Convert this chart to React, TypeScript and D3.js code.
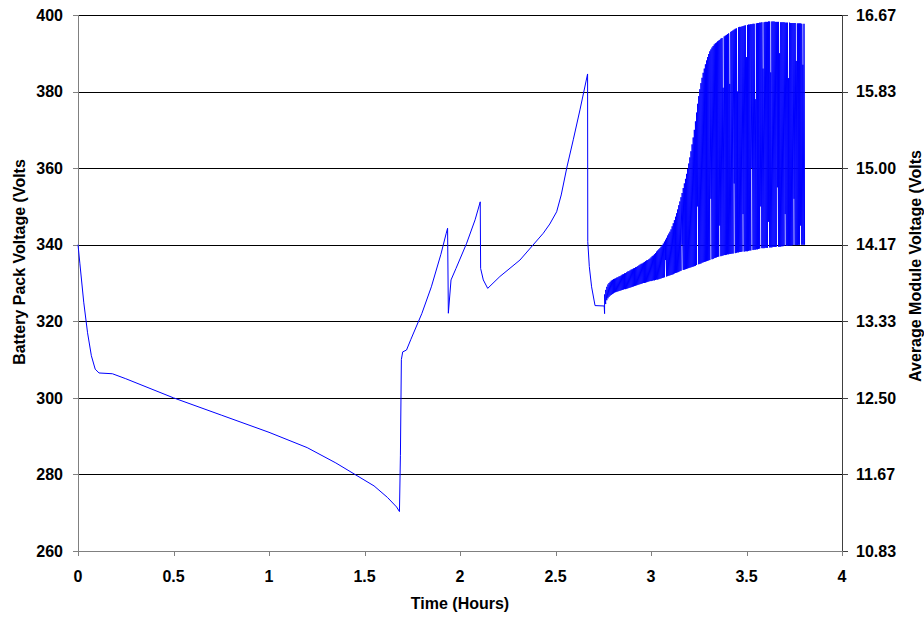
import React from 'react';
import * as d3 from 'd3';

// main trace before the charger starts cycling (hours, pack volts)
const mainTime = [
  0, 0.01, 0.03, 0.05, 0.07, 0.09, 0.11, 0.18, 0.25, 0.5, 0.75, 1.0, 1.2, 1.35, 1.45, 1.55, 1.62, 1.668, 1.683,
  1.688, 1.693, 1.7, 1.72, 1.743, 1.8, 1.85, 1.9, 1.928, 1.935, 1.939, 1.953, 1.979, 2.035, 2.079, 2.106,
  2.108, 2.122, 2.145, 2.209, 2.314, 2.436, 2.47, 2.506, 2.53, 2.56, 2.593, 2.628, 2.668, 2.669, 2.677, 2.689,
  2.707, 2.755,
];
const mainVolt = [
  340, 335, 325, 317, 311, 307.5, 306.5, 306.3, 305, 300, 295.5, 291, 287, 283, 280, 277, 274, 271.5, 270.3,
  285, 310, 312, 312.5, 315.3, 322, 329, 337.5, 343, 344.3, 322.1, 330.8, 333.8, 340.4, 346.5, 351.2,
  333.8, 330.8, 328.6, 331.7, 336, 343, 345.4, 348.6, 353, 360.3, 367.4, 375.2, 384.6, 340.8, 334.3, 329,
  324.1, 324,
];

// charge cycling, one cycle every oscStep hours: drop to oscLow, jump to oscHigh
const oscStart = 2.757;
const oscStep = 0.0058;
const oscHigh = [
  327, 328.2, 329, 329.6, 330, 330.3, 330.6, 330.8, 331, 331.1,
  331.2, 331.4, 331.5, 331.7, 331.8, 332, 332.2, 332.3, 332.5, 332.6,
  332.8, 333, 333.1, 333.3, 333.5, 333.6, 333.8, 333.9, 334.1, 334.2,
  334.4, 334.6, 334.8, 335, 335.1, 335.3, 335.5, 335.7, 335.9, 336,
  336.2, 336.4, 336.7, 337, 337.2, 337.5, 337.8, 338.2, 338.5, 338.8,
  339.1, 339.5, 339.9, 340.3, 340.8, 341.3, 341.8, 342.4, 342.9, 343.4,
  344, 344.8, 345.6, 346.4, 347.3, 348.2, 349.2, 350.3, 351.3, 352.4,
  353.5, 354.8, 356, 357.2, 358.5, 359.8, 361.2, 362.8, 364.4, 366.2,
  368, 370, 372.2, 374.5, 376.8, 378.8, 380.6, 382.2, 383.6, 384.9,
  386, 387.1, 388.1, 389, 389.8, 390.5, 391, 391.5, 391.9, 392.3,
  392.6, 392.8, 393.1, 393.3, 393.5, 393.8, 394, 381, 394.4, 394.6,
  394.8, 395, 395.2, 382, 395.6, 395.8, 396, 396.2, 396.4, 396.5,
  380, 396.8, 396.9, 396.9, 397, 397.1, 397.2, 397.3, 389, 397.4,
  397.5, 397.5, 397.6, 397.6, 397.7, 397.7, 378, 397.8, 397.9, 397.9,
  398, 398, 398.1, 386, 398.1, 398.2, 398.2, 398.2, 398.3, 398.3,
  385, 398.3, 398.3, 398.3, 398.2, 398.2, 398.2, 398.2, 390, 398.1,
  398.1, 398.1, 398.1, 398, 398, 398, 383.5, 398, 397.9, 397.9,
  397.9, 397.9, 397.9, 388, 397.8, 397.8, 397.8, 397.8, 397.7, 387,
  397.7,
];
const oscLow = [
  322, 324.5, 325.5, 326, 326.4, 326.7, 326.9, 327.1, 327.3, 327.5,
  327.6, 327.7, 327.8, 327.9, 328, 328.1, 328.2, 328.3, 328.4, 328.4,
  328.5, 328.6, 328.7, 328.8, 328.9, 329, 329.1, 329.2, 329.3, 329.4,
  329.5, 329.6, 329.7, 329.8, 329.9, 330, 330, 330.1, 330.2, 330.3,
  330.4, 330.5, 330.5, 330.6, 330.7, 330.7, 330.8, 330.9, 330.9, 331,
  331.1, 331.2, 331.3, 331.4, 331.5, 336, 331.7, 331.8, 331.9, 332,
  332.1, 332.2, 332.3, 332.5, 332.6, 332.7, 332.8, 332.9, 333.1, 333.2,
  340, 333.4, 333.5, 333.6, 333.7, 333.8, 333.9, 334, 334.1, 334.2,
  334.3, 334.4, 334.5, 334.7, 350, 334.9, 335, 335.1, 335.3, 335.4,
  335.5, 335.6, 335.7, 335.8, 335.9, 336, 352, 336.2, 336.3, 336.5,
  336.6, 336.7, 336.8, 336.9, 345, 337, 337.1, 337.2, 337.3, 337.3,
  337.4, 337.5, 337.5, 337.6, 337.6, 337.7, 337.7, 356, 337.8, 337.9,
  338, 338, 338.1, 338.1, 338.2, 348, 338.2, 338.3, 338.3, 338.3,
  338.4, 338.5, 338.5, 360, 338.6, 338.7, 338.7, 338.8, 338.8, 338.9,
  339, 350, 339.1, 339.1, 339.1, 339.2, 339.2, 339.2, 346, 339.3,
  339.3, 339.3, 339.4, 339.4, 339.4, 339.5, 355, 339.5, 339.5, 339.5,
  339.6, 339.6, 339.7, 348, 339.7, 339.7, 339.8, 339.8, 339.8, 339.8,
  339.9, 352, 339.9, 339.9, 339.9, 340, 340, 345, 340, 340,
  340,
];
const endTime = 3.804;
const endVolt = 340;

const xTicks = [0, 0.5, 1, 1.5, 2, 2.5, 3, 3.5, 4];
const yTicks = [260, 280, 300, 320, 340, 360, 380, 400];
const moduleCount = 24;

const W = 924;
const H = 623;
const left = 78;
const right = 842;
const top = 15;
const bottom = 551;
const font = '"Liberation Sans", Arial, sans-serif';

export default function App() {
  const x = d3.scaleLinear().domain([0, 4]).range([left, right]);
  const y = d3.scaleLinear().domain([260, 400]).range([bottom, top]);

  const pts: [number, number][] = mainTime.map((t, i) => [t, mainVolt[i]]);
  oscHigh.forEach((v, i) => {
    const t = oscStart + i * oscStep;
    pts.push([t, oscLow[i]]);
    pts.push([t, v]);
  });
  pts.push([endTime, endVolt]);

  const line = d3.line<[number, number]>().x(d => x(d[0])).y(d => y(d[1]));

  return (
    <svg width={W} height={H} style={{ position: 'absolute', left: 0, top: 0, background: '#fff' }}
      fontFamily={font}>
      {/* gridlines */}
      {yTicks.map(v => (
        <line key={'g' + v} x1={left} x2={right} y1={Math.round(y(v)) + 0.5} y2={Math.round(y(v)) + 0.5}
          stroke="#000" strokeWidth={1} />
      ))}

      {/* axes */}
      <line x1={left + 0.5} x2={left + 0.5} y1={top} y2={bottom + 5} stroke="#808080" />
      <line x1={right + 0.5} x2={right + 0.5} y1={top} y2={bottom + 5} stroke="#404040" />
      <line x1={left} x2={right} y1={bottom + 0.5} y2={bottom + 0.5} stroke="#808080" />
      {yTicks.map(v => (
        <g key={'t' + v}>
          <line x1={left - 5} x2={left} y1={Math.round(y(v)) + 0.5} y2={Math.round(y(v)) + 0.5} stroke="#808080" />
          <line x1={right} x2={right + 6} y1={Math.round(y(v)) + 0.5} y2={Math.round(y(v)) + 0.5} stroke="#404040" />
          <text x={63} y={y(v)} dy="0.36em" textAnchor="end" fontSize={16} fontWeight="bold">{v}</text>
          <text x={856} y={y(v)} dy="0.36em" textAnchor="start" fontSize={16} fontWeight="bold">
            {(v / moduleCount).toFixed(2)}
          </text>
        </g>
      ))}
      {xTicks.map(v => (
        <g key={'x' + v}>
          <line x1={Math.round(x(v)) + 0.5} x2={Math.round(x(v)) + 0.5} y1={bottom} y2={bottom + 5} stroke="#808080" />
          <text x={x(v)} y={582} textAnchor="middle" fontSize={16} fontWeight="bold">{v}</text>
        </g>
      ))}

      {/* trace */}
      <path d={line(pts) || ''} fill="none" stroke="#0000ff" strokeWidth={1} />

      {/* titles */}
      <text x={460} y={609} textAnchor="middle" fontSize={16} fontWeight="bold">Time (Hours)</text>
      <text transform="translate(25,262) rotate(-90)" textAnchor="middle" fontSize={16} fontWeight="bold">
        Battery Pack Voltage (Volts
      </text>
      <text transform="translate(921,266) rotate(-90)" textAnchor="middle" fontSize={16} fontWeight="bold">
        Average Module Voltage (Volts
      </text>
    </svg>
  );
}
